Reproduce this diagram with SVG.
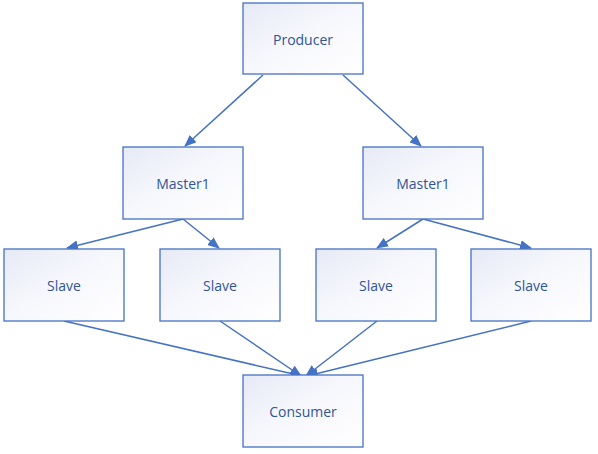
<svg xmlns="http://www.w3.org/2000/svg" width="598" height="454" viewBox="0 0 598 454">
<defs>
<linearGradient id="g" x1="0" y1="0" x2="1" y2="1">
<stop offset="0" stop-color="#e6eaf6"/>
<stop offset="0.45" stop-color="#f6f7fc"/>
<stop offset="1" stop-color="#ffffff"/>
</linearGradient>
<marker id="ah" viewBox="0 0 12 10" refX="11" refY="5" markerWidth="12" markerHeight="10" markerUnits="userSpaceOnUse" orient="auto">
<path d="M0,0 L12,5 L0,10 z" fill="#4472c4"/>
</marker>
<style>
rect.n{fill:url(#g);stroke:#4472c4;stroke-width:1.3}
text{font-family:"Open Sans","Liberation Sans",sans-serif;font-size:14px;fill:#2f5597;text-anchor:middle;dominant-baseline:central}
.c line{stroke:#4472c4;stroke-width:1.5;marker-end:url(#ah)}
</style>
</defs>
<rect width="598" height="454" fill="#ffffff"/>
<g class="c" id="connectors">
<line x1="263" y1="75" x2="185" y2="146"/>
<line x1="343" y1="75" x2="421" y2="146"/>
<line x1="183" y1="219" x2="67" y2="248"/>
<line x1="183" y1="219" x2="219" y2="248"/>
<line x1="423" y1="219" x2="377" y2="248"/>
<line x1="423" y1="219" x2="531" y2="248"/>
<line x1="64" y1="321" x2="302" y2="376"/>
<line x1="220" y1="321" x2="301" y2="376"/>
<line x1="377" y1="321" x2="306" y2="376"/>
<line x1="531" y1="321" x2="307" y2="376"/>
</g>
<g id="producer"><rect class="n" x="243" y="3" width="120" height="71"/><text x="303" y="39">Producer</text></g>
<g id="master1a"><rect class="n" x="123" y="147" width="120" height="72"/><text x="183" y="183">Master1</text></g>
<g id="master1b"><rect class="n" x="363" y="147" width="120" height="72"/><text x="423" y="183">Master1</text></g>
<g id="slave1"><rect class="n" x="4" y="249" width="120" height="72"/><text x="64" y="285">Slave</text></g>
<g id="slave2"><rect class="n" x="160" y="249" width="120" height="72"/><text x="220" y="285">Slave</text></g>
<g id="slave3"><rect class="n" x="316" y="249" width="120" height="72"/><text x="376" y="285">Slave</text></g>
<g id="slave4"><rect class="n" x="471" y="249" width="120" height="72"/><text x="531" y="285">Slave</text></g>
<g id="consumer"><rect class="n" x="243" y="375" width="120" height="72"/><text x="303" y="411">Consumer</text></g>
</svg>
